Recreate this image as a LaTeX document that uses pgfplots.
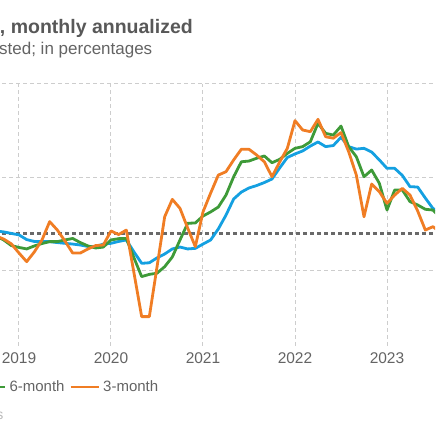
\documentclass[border=0pt]{standalone}
\usepackage{pgfplots}
\pgfplotsset{compat=1.18}
\usepackage{pgfplotstable}
\usepackage{fontspec}
\setmainfont{Liberation Sans}
\definecolor{cblue}{RGB}{20,160,225}
\definecolor{cgreen}{RGB}{62,154,56}
\definecolor{corange}{RGB}{240,125,36}
\definecolor{refgray}{RGB}{105,105,105}
\definecolor{gridgray}{RGB}{205,205,205}
\definecolor{titlegray}{RGB}{88,88,88}
\definecolor{txtgray}{RGB}{100,100,100}
\definecolor{srcgray}{RGB}{185,185,185}

\pgfplotstableread{
k b g o
0 2.14 1.87 1.87
1 2.09 1.66 1.71
2 2.01 1.36 1.45
3 1.93 1.26 0.96
4 1.68 1.18 0.50
5 1.58 1.34 1.02
6 1.57 1.47 1.66
7 1.57 1.57 2.64
8 1.52 1.57 2.19
9 1.48 1.66 1.60
10 1.44 1.74 0.96
11 1.39 1.52 0.96
12 1.31 1.34 1.18
13 1.30 1.23 1.36
14 1.44 1.28 1.39
15 1.48 1.66 2.14
16 1.58 1.73 1.95
17 1.66 1.74 2.19
18 1.02 0.70 -0.11
19 0.41 -0.30 -2.44
20 0.44 -0.18 -2.44
21 0.70 -0.12 0.21
22 0.91 0.23 2.90
23 1.18 0.75 3.83
24 1.28 1.66 3.35
25 1.18 2.55 2.30
26 1.21 2.57 1.30
27 1.44 2.94 3.16
28 1.66 3.16 4.17
29 2.25 3.42 5.13
30 2.99 4.06 5.31
31 3.85 5.04 5.94
32 4.22 5.84 6.51
33 4.44 5.88 6.51
34 4.57 6.03 6.20
35 4.73 6.15 5.84
36 4.92 5.79 5.04
37 5.51 5.97 5.83
38 6.07 6.29 6.56
39 6.26 6.56 8.04
40 6.42 6.65 7.54
41 6.68 6.91 7.45
42 6.90 7.90 8.11
43 6.65 7.36 7.18
44 6.71 7.27 7.10
45 7.15 7.75 7.40
46 6.65 6.65 6.38
47 6.52 6.11 5.13
48 6.56 5.04 2.90
49 6.36 5.40 4.65
50 5.94 4.69 4.24
51 5.49 3.26 3.62
52 5.49 4.33 4.06
53 5.11 4.33 4.42
54 4.51 3.71 4.06
55 4.49 3.53 3.21
56 3.90 3.30 2.19
57 3.34 3.26 2.37
58 3.16 2.82 2.05
}\datatable

\begin{document}
\begin{tikzpicture}
\useasboundingbox (0pt,0pt) rectangle (435pt,435pt);
\clip (0pt,0pt) rectangle (435pt,435pt);
\begin{axis}[
  at={(-11.67pt,89.2pt)}, anchor=south west,
  scale only axis, width=467.67pt, height=261.8pt,
  xmin=-1, xmax=60, ymin=-4, ymax=10,
  xtick={3,15,27,39,51}, xticklabels={2019,2020,2021,2022,2023},
  ytick={0,5,10}, yticklabels={},
  grid=major,
  major grid style={draw=gridgray, line width=1pt, dash pattern=on 4pt off 3pt},
  axis line style={draw=none},
  major tick length=0pt,
  tick style={draw=none},
  xticklabel shift=3.8pt,
  xticklabel style={font=\fontsize{15.5}{18}\selectfont, text=txtgray, anchor=north},
  clip=true,
]
\addplot[refgray, line width=3pt, dash pattern=on 4pt off 3pt] coordinates {(-1,2) (60,2)};
\addplot[cblue, line width=2.8pt, line join=round] table[x=k, y=b] {\datatable};
\addplot[cgreen, line width=2.8pt, line join=round] table[x=k, y=g] {\datatable};
\addplot[corange, line width=2.8pt, line join=round] table[x=k, y=o] {\datatable};
\end{axis}
% titles
\node[anchor=base east, inner sep=0pt, font=\fontsize{19.5}{22}\selectfont\bfseries, text=titlegray] at (193pt,401.7pt) {PCE price index, monthly annualized};
\node[anchor=base east, inner sep=0pt, font=\fontsize{17}{19}\selectfont, text=txtgray] at (152.5pt,380pt) {Seasonally adjusted; in percentages};
% legend
\draw[cgreen, line width=2.5pt] (-23pt,48pt) -- (5pt,48pt);
\node[anchor=base west, inner sep=0pt, font=\fontsize{15}{18}\selectfont, text=txtgray] at (9.3pt,43.5pt) {6-month};
\draw[corange, line width=2.5pt] (70.7pt,48pt) -- (99pt,48pt);
\node[anchor=base west, inner sep=0pt, font=\fontsize{15}{18}\selectfont, text=txtgray] at (103pt,43.5pt) {3-month};
% source
\node[anchor=base east, inner sep=0pt, font=\fontsize{14}{17}\selectfont, text=srcgray] at (3.5pt,16pt) {Source: Bureau of Economic Analysis};
\end{tikzpicture}
\end{document}
